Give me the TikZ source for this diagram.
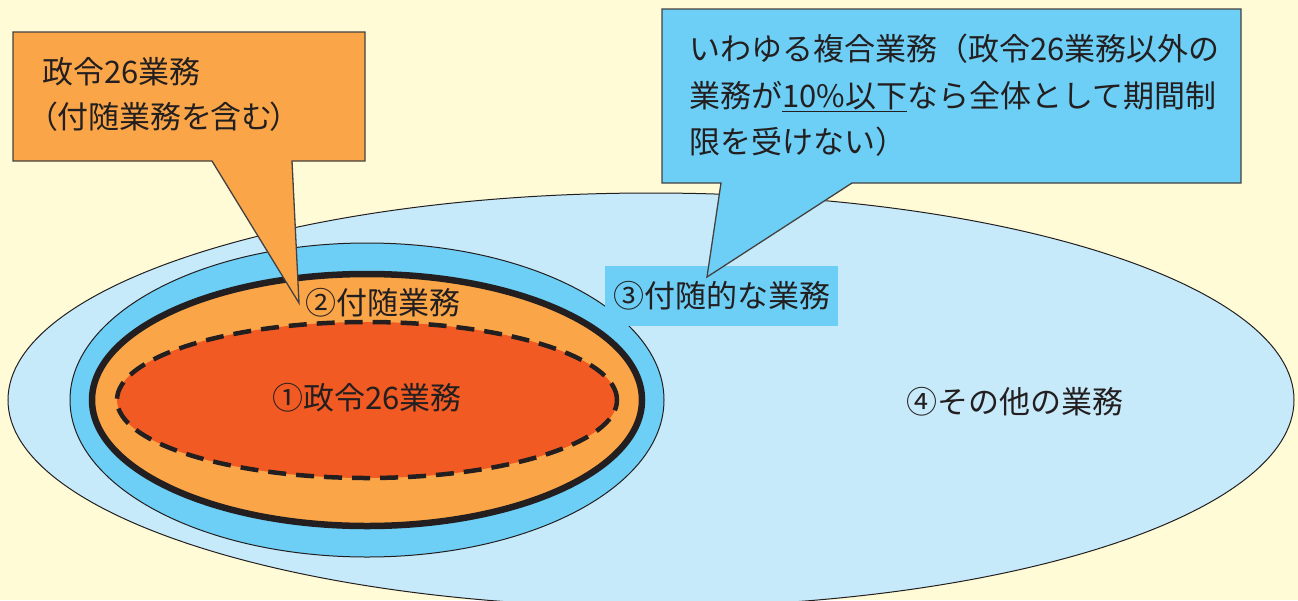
\documentclass[tikz,border=0pt]{standalone}
\usepackage{fontspec}
\newfontfamily\jpfont{Noto Sans CJK JP}
\newfontfamily\jpnarrow[RawFeature=+palt]{Noto Sans CJK JP}
\definecolor{cream}{RGB}{255,251,214}
\definecolor{paleblue}{RGB}{199,234,250}
\definecolor{skyblue}{RGB}{109,207,246}
\definecolor{peach}{RGB}{250,166,72}
\definecolor{vermilion}{RGB}{241,90,34}
\definecolor{ink}{RGB}{35,31,32}
\begin{document}
\begin{tikzpicture}[
 x=1pt, y=-1pt,
 inner sep=0pt,
 every node/.style={font=\jpfont\fontsize{31}{46.5}\selectfont, text=ink},
 ring/.style={draw=ink, line width=1pt},
 callout/.style={draw=ink!85, line width=1.3pt, line join=miter},
 tag/.style={fill=skyblue, minimum width=233pt, minimum height=60pt}
]
\fill [cream] (0,0) rectangle (1298,600);
\useasboundingbox (0,0) rectangle (1298,600);
\coordinate (outer-c) at (651,400);
\coordinate (inner-c) at (367,400);
% nested areas
\filldraw [ring, fill=paleblue] (outer-c) ellipse [x radius=643pt, y radius=207pt];
\filldraw [ring, fill=skyblue] (inner-c) ellipse [x radius=297pt, y radius=157pt];
\filldraw [draw=ink, line width=6.5pt, fill=peach] (inner-c) ellipse [x radius=275pt, y radius=126pt];
\filldraw [draw=ink, line width=4.5pt, dash pattern=on 18pt off 10pt, fill=vermilion] (inner-c) ellipse [x radius=250pt, y radius=78pt];
\node (core) at (367,398) {①政令26業務};
\node (incidental) at (383,303) {②付随業務};
\node (related) [tag] at (721.5,296) {③付随的な業務};
\node (other) at (1015,402) {④その他の業務};
% callouts
\coordinate (tip1) at (299,303);
\coordinate (tip2) at (707,277);
\filldraw [callout, fill=peach] (13,32) -- (365,32) -- (365,161) -- (292,161) -- (tip1) -- (212,161) -- (13,161) -- cycle;
\node (note1) [anchor=north west, align=left, font=\jpnarrow\fontsize{31}{45}\selectfont] at (42,57) {政令26業務\\（付随業務を含む）};
\filldraw [callout, fill=skyblue] (662,9) -- (1241,9) -- (1241,183) -- (852,183) -- (tip2) -- (721,183) -- (662,183) -- cycle;
\node (note2) [anchor=north west, align=left] at (689,34) {いわゆる複合業務（政令26業務以外の\\業務が\underline{10\%以下}なら全体として期間制\\限を受けない）};
\end{tikzpicture}
\end{document}
